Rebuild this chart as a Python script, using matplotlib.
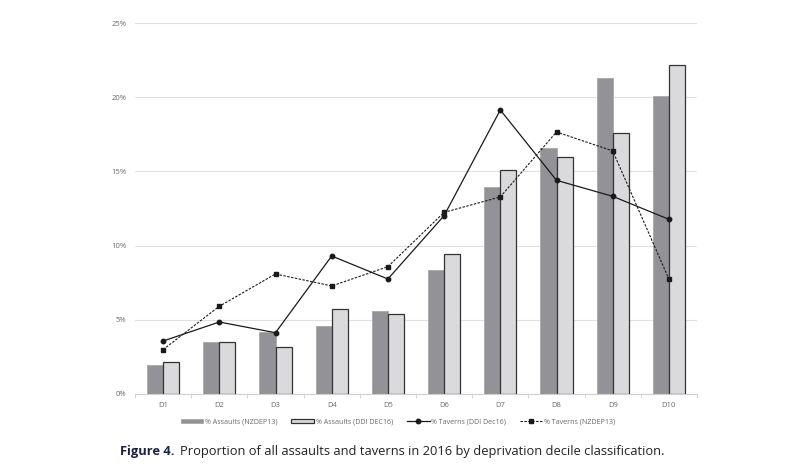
import numpy as np
import matplotlib
matplotlib.use('Agg')
import matplotlib.pyplot as plt
from matplotlib.ticker import FuncFormatter

deciles = ['D1', 'D2', 'D3', 'D4', 'D5', 'D6', 'D7', 'D8', 'D9', 'D10']
assaults_nzdep13 = [1.95, 3.48, 4.20, 4.56, 5.57, 8.36, 13.93, 16.58, 21.31, 20.06]
assaults_ddi = [2.13, 3.50, 3.17, 5.71, 5.37, 9.46, 15.07, 15.95, 17.59, 22.19]
taverns_ddi = [3.57, 4.85, 4.13, 9.30, 7.75, 12.02, 19.14, 14.40, 13.32, 11.77]
taverns_nzdep13 = [2.99, 5.91, 8.09, 7.28, 8.58, 12.24, 13.28, 17.66, 16.38, 7.75]

plt.rcParams['font.family'] = ['Open Sans', 'DejaVu Sans']

fig = plt.figure(figsize=(8.1, 4.7), dpi=100)
ax = fig.add_axes([135/810, 1-394/470, (697-135)/810, (394-23)/470])

x = np.arange(len(deciles))
w = 0.285
b1 = ax.bar(x - w/2, assaults_nzdep13, w, color='#939397', edgecolor='#a8a8ab', linewidth=0.6,
            label='% Assaults (NZDEP13)', zorder=2)
b2 = ax.bar(x + w/2, assaults_ddi, w, color='#dadadc', edgecolor='#333333', linewidth=0.9,
            label='% Assaults (DDI DEC16)', zorder=2)
l1, = ax.plot(x, taverns_ddi, '-o', color='#1a1a1a', lw=0.9, ms=3.2,
              label='% Taverns (DDI Dec16)', zorder=3)
l2, = ax.plot(x, taverns_nzdep13, '--s', color='#1a1a1a', lw=0.8, ms=3.2, dashes=(2.2, 1.3),
              label='% Taverns (NZDEP13)', zorder=3)

ax.set_xlim(-0.5, 9.5)
ax.set_ylim(0, 25)
ax.set_yticks(np.arange(0, 26, 5))
ax.yaxis.set_major_formatter(FuncFormatter(lambda v, p: '%d%%' % v))
ax.set_xticks(x)
ax.set_xticklabels(deciles)
ax.set_xticks(np.arange(-0.5, 10, 1), minor=True)
ax.tick_params(axis='x', which='major', length=0, pad=6, labelsize=5.5, labelcolor='#6a6a6a')
ax.tick_params(axis='x', which='minor', length=3, color='#d0d0d0', width=0.6)
ax.tick_params(axis='y', length=0, pad=6, labelsize=5.5, labelcolor='#6a6a6a')
ax.grid(axis='y', color='#e0e0e0', lw=0.8, zorder=0)
ax.set_axisbelow(True)
for s in ['top', 'right', 'left']:
    ax.spines[s].set_visible(False)
ax.spines['bottom'].set_color('#d0d0d0')
ax.spines['bottom'].set_linewidth(0.8)

ax.legend(handles=[b1, b2, l1, l2], loc='center', bbox_to_anchor=(398/810, 1-422/470),
          bbox_transform=fig.transFigure, ncol=4, frameon=False, fontsize=5.1,
          labelcolor='#6a6a6a', handlelength=3.2, handleheight=0.5, columnspacing=2.0,
          handletextpad=0.2)

t1 = fig.text(120/810, 1-451/470, 'Figure 4.', fontsize=9.3, fontweight='bold',
              color='#1c2340', va='center', ha='left')
fig.canvas.draw()
bb = t1.get_window_extent()
fig.text((bb.x1 + 5)/810, 1-451/470,
         'Proportion of all assaults and taverns in 2016 by deprivation decile classification.',
         fontsize=9.3, color='#222222', va='center', ha='left')

fig.savefig('out.png', dpi=100)
